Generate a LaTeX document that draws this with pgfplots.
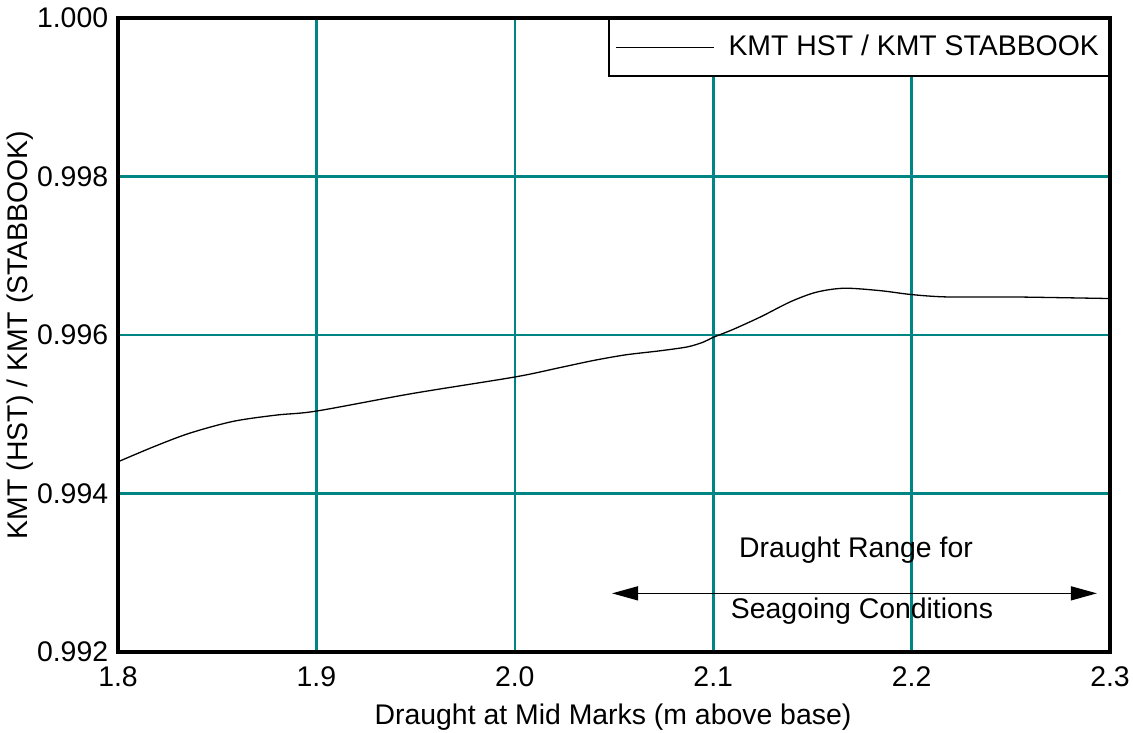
\documentclass[border=0pt]{standalone}
\usepackage{fontspec}
\setmainfont{Liberation Sans}
\usepackage{pgfplots}
\pgfplotsset{compat=1.18}
\usetikzlibrary{arrows.meta}
\definecolor{gridteal}{RGB}{0,133,133}
\pgfplotstableread{
x y
1.800 0.99440
1.818 0.99459
1.836 0.99476
1.858 0.99491
1.880 0.99499
1.900 0.99504
1.948 0.99526
2.000 0.99547
2.023 0.99559
2.040 0.99568
2.056 0.99575
2.073 0.99580
2.087 0.99585
2.095 0.99591
2.100 0.99597
2.110 0.99607
2.124 0.99623
2.139 0.99642
2.152 0.99654
2.166 0.99659
2.184 0.99656
2.200 0.99651
2.218 0.99648
2.251 0.99648
2.300 0.99646
}\kmtdata
\newcommand{\fs}{\fontsize{14.2bp}{17bp}\selectfont}
\begin{document}
\fs
\begin{tikzpicture}
\begin{axis}[
  scale only axis, width=496bp, height=317bp,
  xmin=1.8, xmax=2.3, ymin=0.992, ymax=1.0,
  xtick={1.8,1.9,2.0,2.1,2.2,2.3},
  ytick={0.992,0.994,0.996,0.998,1.000},
  grid=major,
  major grid style={gridteal, line width=1.3bp},
  axis line style={line width=1.7bp},
  major tick length=0pt,
  tick label style={font=\fs},
  label style={font=\fs},
  xticklabel style={yshift=-2.5bp, inner xsep=1bp, /pgf/number format/.cd,fixed,fixed zerofill,precision=1},
  yticklabel style={xshift=0bp, /pgf/number format/.cd,fixed,fixed zerofill,precision=3},
  /pgf/number format/assume math mode=true,
  scaled y ticks=false, scaled x ticks=false,
  xlabel={Draught at Mid Marks (m above base)},
  xlabel style={at={(axis description cs:0.499,-0.1025)}, anchor=center},
  ylabel={KMT (HST) / KMT (STABBOOK)},
  ylabel style={at={(axis description cs:-0.0988,0.5)}, anchor=center},
  legend style={at={(1,1)}, anchor=north east, draw=black, line width=1.2bp,
    font=\fs, inner xsep=3bp, inner ysep=6bp,
    /tikz/every odd column/.append style={column sep=5bp}},
  legend cell align=left,
  legend image code/.code={\draw[#1] (0bp,0bp) -- (49bp,0bp);},
]
\addplot[black, line width=0.65bp, smooth, tension=0.5] table[x=x,y=y] {\kmtdata};
\addlegendentry{KMT HST / KMT STABBOOK}
\draw[line width=0.65bp, {Triangle[length=13bp,width=7bp]}-{Triangle[length=13bp,width=7bp]}]
  (axis cs:2.049,0.99274) -- (axis cs:2.2934,0.99274);
\node[font=\fs] at (axis cs:2.172,0.99329) {Draught Range for};
\node[font=\fs] at (axis cs:2.175,0.99252) {Seagoing Conditions};
\end{axis}
\pgfresetboundingbox
\path[use as bounding box] ([xshift=-59bp,yshift=-40.5bp]current axis.south west) rectangle ([xshift=11.5bp,yshift=9bp]current axis.north east);
\end{tikzpicture}
\end{document}
